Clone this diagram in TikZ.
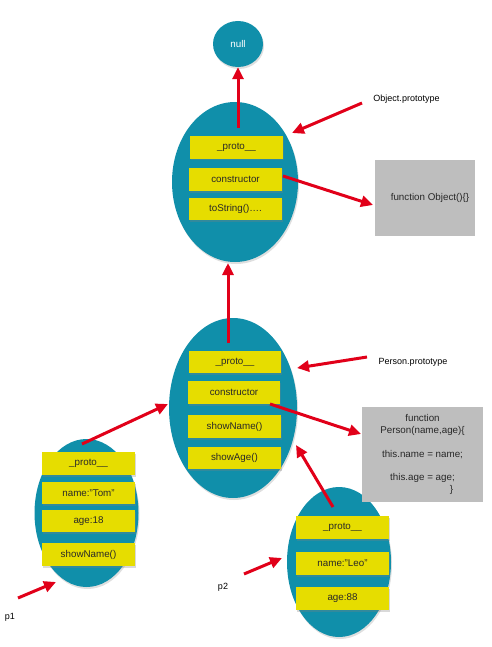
\documentclass[tikz,border=0pt]{standalone}
\usepackage{fontspec}
\setmainfont{Liberation Sans}
\usetikzlibrary{shapes.geometric,arrows.meta,shadows}
\definecolor{blobc}{RGB}{16,143,170}
\definecolor{yel}{RGB}{230,221,0}
\definecolor{grayb}{RGB}{190,190,190}
\definecolor{redarr}{RGB}{225,0,25}
\definecolor{txt}{RGB}{40,40,40}
\begin{document}
\begin{tikzpicture}[x=1pt,y=-1pt,
  blob/.style={ellipse, fill=blobc, inner sep=0pt,
    drop shadow={shadow xshift=1pt, shadow yshift=-2pt, opacity=0.25}},
  field/.style={rectangle, fill=yel, minimum width=93pt, minimum height=23pt, inner sep=0pt,
    font=\fontsize{9.8}{11}\selectfont, text=txt,
    drop shadow={shadow xshift=1pt, shadow yshift=-1.5pt, opacity=0.3}},
  codebox/.style={rectangle, fill=grayb, inner sep=0pt, font=\fontsize{9.8}{11.7}\selectfont, text=txt, align=center},
  lbl/.style={font=\fontsize{9}{11}\selectfont, text=black},
  arr/.style={draw=redarr, line width=3pt, -{Triangle[length=12pt,width=11pt]}}]
\useasboundingbox (0,0) rectangle (491,647);

% ellipses
\node[blob, minimum width=50pt, minimum height=46pt, text=white, font=\fontsize{9.8}{11}\selectfont] (null) at (238,44) {null};
\node[blob, minimum width=126pt, minimum height=160pt] (obj) at (235,182) {};
\node[blob, minimum width=128pt, minimum height=180pt] (per) at (233,408) {};
\node[blob, minimum width=104pt, minimum height=148pt] (tom) at (86.5,513) {};
\node[blob, minimum width=104pt, minimum height=150pt] (leo) at (339,562) {};

% Object.prototype fields
\node[field] (oproto) at (236.5,147.5) {\_proto\_\_};
\node[field] (ocons) at (235.5,179.5) {constructor};
\node[field, minimum height=22pt] (otostr) at (235.5,209) {toString()\dots.};

% Person.prototype fields
\node[field, minimum width=92pt, minimum height=22pt] (pproto) at (235,362) {\_proto\_\_};
\node[field, minimum width=92pt] (pcons) at (234,392.5) {constructor};
\node[field] (pshow) at (234.5,426.5) {showName()};
\node[field, minimum height=22pt] (page) at (234.5,458) {showAge()};

% Tom fields
\node[field] (tproto) at (88.5,463.5) {\_proto\_\_};
\node[field, minimum height=22pt] (tname) at (88.5,493) {name:"Tom"};
\node[field, minimum height=22pt] (tage) at (88.5,521) {age:18};
\node[field] (tshow) at (88.5,554.5) {showName()};

% Leo fields
\node[field] (lproto) at (342.5,527.5) {\_proto\_\_};
\node[field] (lname) at (342.5,563.5) {name:"Leo"};
\node[field] (lage) at (342.5,598.5) {age:88};

% code boxes
\node[codebox, minimum width=100pt, minimum height=76pt] (g1) at (425,198) {\hspace*{10pt}function Object()\{\}};
\node[codebox, minimum width=121pt, minimum height=95pt] (g2) at (422.5,454.5)
  {function\\Person(name,age)\{\\[11.7pt]this.name = name;\\[11.7pt]this.age = age;\\\hspace*{58pt}\}};

% labels
\node[lbl] (lobj) at (406.5,99) {Object.prototype};
\node[lbl] (lper) at (413,362) {Person.prototype};
\node[lbl] (lp1) at (10,617) {p1};
\node[lbl] (lp2) at (223,587) {p2};

% arrow end points
\coordinate (a1s) at (238,128);
\coordinate (a2s) at (362,103);
\coordinate (a2e) at (292,133);
\coordinate (a3s) at (283,176);
\coordinate (a3e) at (373,205);
\coordinate (a4s) at (228,343);
\coordinate (a4e) at (228,263);
\coordinate (a5s) at (367,357);
\coordinate (a5e) at (297,368);
\coordinate (a6s) at (270,404);
\coordinate (a6e) at (361,434);
\coordinate (a7s) at (82,444);
\coordinate (a7e) at (168,404);
\coordinate (a8s) at (333,507);
\coordinate (a8e) at (296,445);
\coordinate (a9s) at (18,598);
\coordinate (a9e) at (56,582);
\coordinate (a10s) at (244,574);
\coordinate (a10e) at (282,558);

% arrows
\draw[arr] (a1s) -- (null.south);
\draw[arr] (a2s) -- (a2e);
\draw[arr] (a3s) -- (a3e);
\draw[arr] (a4s) -- (a4e);
\draw[arr] (a5s) -- (a5e);
\draw[arr] (a6s) -- (a6e);
\draw[arr] (a7s) -- (a7e);
\draw[arr] (a8s) -- (a8e);
\draw[arr] (a9s) -- (a9e);
\draw[arr] (a10s) -- (a10e);
\end{tikzpicture}
\end{document}
